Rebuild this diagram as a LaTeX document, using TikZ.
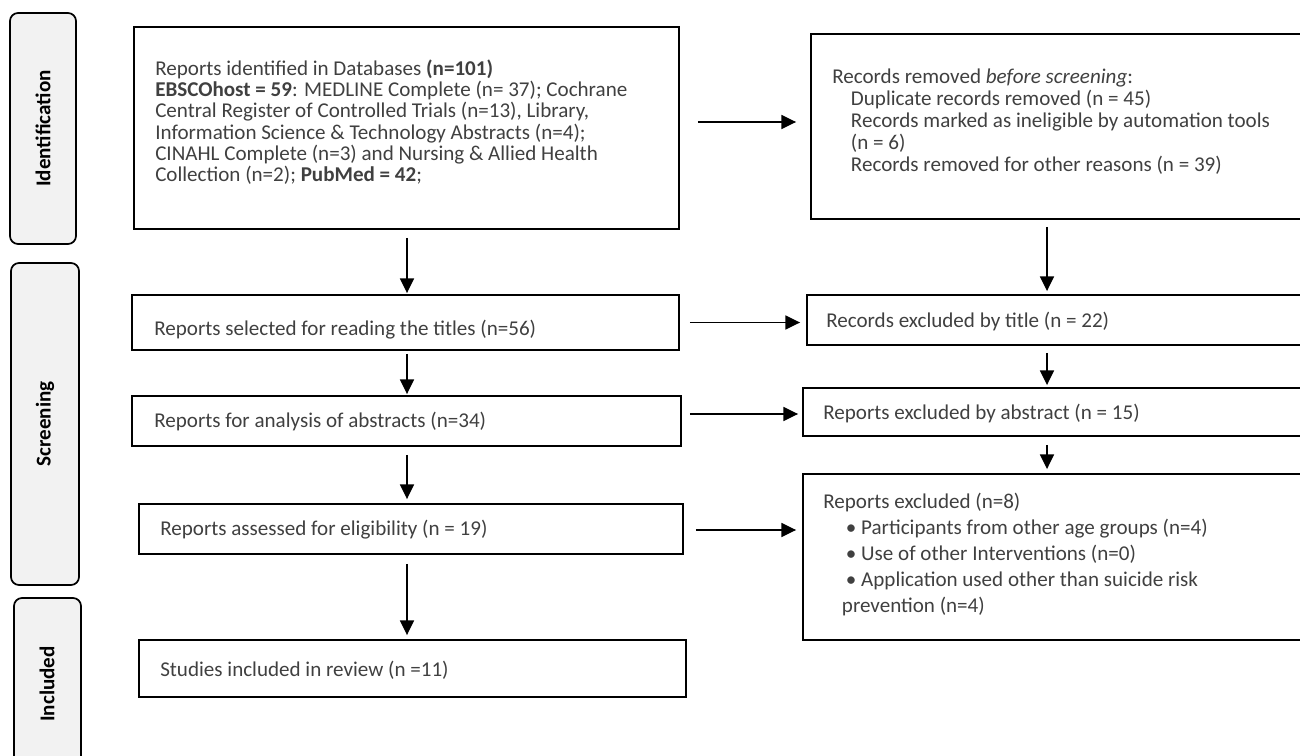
\documentclass[tikz,border=0pt]{standalone}
\usepackage{fontspec}
\setmainfont{Carlito}
\usetikzlibrary{arrows.meta,fit,calc}
\definecolor{txt}{HTML}{404040}
\definecolor{sidefill}{HTML}{F2F2F2}
\begin{document}
\begin{tikzpicture}[x=0.75pt,y=-0.75pt,
  box/.style={draw=black,line width=1.4pt,inner sep=0pt},
  phase/.style={draw=black,line width=1.3pt,fill=sidefill,rounded corners=6pt,inner sep=0pt},
  btxt/.style={text=txt,font=\fontsize{15.8}{16}\selectfont,align=left,inner sep=0pt,anchor=west},
  plbl/.style={font=\fontsize{15.8}{16}\selectfont\bfseries,rotate=90,inner sep=0pt},
  arr/.style={line width=1.1pt,-{Triangle[length=11pt,width=10.5pt]}}]
\useasboundingbox (0,0) rectangle (1300,756);
\clip (0,0) rectangle (1300,756);
\coordinate (xl) at (407,0);
\coordinate (xr) at (1047,0);

% phase boxes
\node[phase,fit={(10,13) (76,244)}] (pI) {};
\node[plbl] (lI) at (pI.center) {Identification};
\node[phase,fit={(11,263) (79,585)}] (pS) {};
\node[plbl] (lS) at (pS.center) {Screening};
\node[phase,fit={(14,598) (81,800)}] (pC) {};
\node[plbl] (lC) at (47,684) {Included};

% left column
\node[box,fit={(134,27) (679,229)}] (A) {};
\node[btxt] (tA) at (155,122) {Reports identified in Databases \textbf{(n=101)}\\
\textbf{EBSCOhost = 59}: MEDLINE Complete (n= 37); Cochrane\\
Central Register of Controlled Trials (n=13), Library,\\
Information Science \& Technology Abstracts (n=4);\\
CINAHL Complete (n=3) and Nursing \& Allied Health\\
Collection (n=2); \textbf{PubMed = 42};};

\node[box,fit={(132,295) (679,350)}] (B) {};
\node[btxt] (tB) at (154,330) {Reports selected for reading the titles (n=56)};
\node[box,fit={(132,396) (681,446)}] (C) {};
\node[btxt] (tC) at (154,421) {Reports for analysis of abstracts (n=34)};
\node[box,fit={(139,504) (683,554)}] (D) {};
\node[btxt] (tD) at (160,530) {Reports assessed for eligibility (n = 19)};
\node[box,fit={(139,640) (686,697)}] (E) {};
\node[btxt] (tE) at (160,670) {Studies included in review (n =11)};

% right column
\node[box,fit={(811,34) (1310,219)}] (R1) {};
\node[btxt,font=\fontsize{15.8}{16.5}\selectfont] (tR1) at (832,122) {Records removed \textit{before screening}:\\
\hspace*{14pt}Duplicate records removed (n = 45)\\
\hspace*{14pt}Records marked as ineligible by automation tools\\
\hspace*{14pt}(n = 6)\\
\hspace*{14pt}Records removed for other reasons (n = 39)};
\node[box,fit={(807,295) (1310,345)}] (R2) {};
\node[btxt] (tR2) at (826,321) {Records excluded by title (n = 22)};
\node[box,fit={(803,388) (1310,436)}] (R3) {};
\node[btxt] (tR3) at (823,413) {Reports excluded by abstract (n = 15)};
\node[box,fit={(803,474) (1310,640)}] (R4) {};
\node[btxt,font=\fontsize{15.8}{19.5}\selectfont] (tR4) at (823,554) {Reports excluded (n=8)\\
\hspace*{17pt}• Participants from other age groups (n=4)\\
\hspace*{17pt}• Use of other Interventions (n=0)\\
\hspace*{17pt}• Application used other than suicide risk\\
\hspace*{14pt}prevention (n=4)};

% vertical arrows, left
\draw[arr] ($(A.south -| xl)+(0,8)$) -- ($(B.north -| xl)+(0,-1)$);
\draw[arr] ($(B.south -| xl)+(0,3)$) -- ($(C.north -| xl)+(0,-1)$);
\draw[arr] ($(C.south -| xl)+(0,8)$) -- ($(D.north -| xl)+(0,-4)$);
\draw[arr] ($(D.south -| xl)+(0,9)$) -- ($(E.north -| xl)+(0,-4)$);

% horizontal arrows
\draw[arr] ($(A.east)+(18,-6)$) -- ($(R1.west |- A.east)+(-14,-6)$);
\draw[arr] ($(B.east)+(10,0)$) -- ($(R2.west |- B.east)+(-6,0)$);
\draw[arr] ($(C.east |- R3.west)+(8,2)$) -- ($(R3.west)+(-4,2)$);
\draw[arr] ($(D.east)+(12,1)$) -- ($(R4.west |- D.east)+(-6,1)$);

% vertical arrows, right
\draw[arr] ($(R1.south -| xr)+(0,7)$) -- ($(R2.north -| xr)+(0,-3)$);
\draw[arr] ($(R2.south -| xr)+(0,7)$) -- ($(R3.north -| xr)+(0,-2)$);
\draw[arr] ($(R3.south -| xr)+(0,8)$) -- ($(R4.north -| xr)+(0,-4)$);
\end{tikzpicture}
\end{document}
